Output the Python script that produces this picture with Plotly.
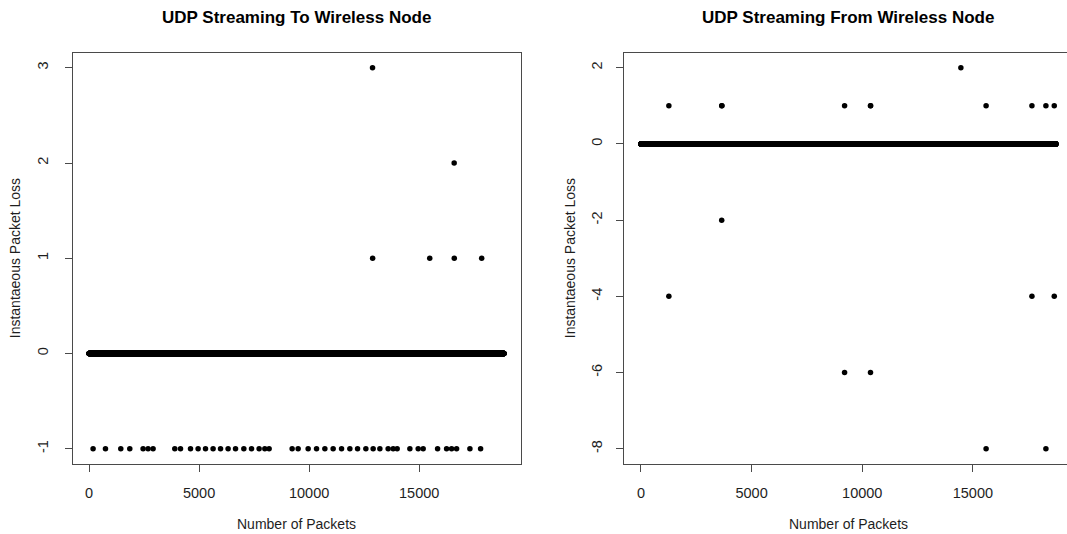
import numpy as np
import plotly.graph_objects as go

# ---- data -------------------------------------------------------------
# Total packets in each stream
n_packets_to = 18850
n_packets_from = 18750

# Loss events, streaming to the wireless node (packet number, loss)
to_event_x = [182, 745, 1441, 1850, 2455, 2682, 2909, 3895, 4155, 4609, 4955,
              5291, 5636, 5973, 6318, 6655, 7032, 7382, 7727, 7986, 8182,
              9227, 9500, 9955, 10336, 10714, 11091, 11473, 11850, 12200,
              12577, 12909, 13214, 13591, 13818, 14000, 14577, 14955, 15182,
              15836, 16245, 16473, 16700, 17305, 17791,
              12880, 12885, 15480, 16590, 16595, 17840]
to_event_y = [-1] * 45 + [3, 1, 1, 2, 1, 1]

# Loss events, streaming from the wireless node (packet number, loss)
from_event_x = [1261, 3649, 3660, 9203, 10374, 10380, 15599, 17671, 18302,
                18680, 14459,
                3649, 1261, 17671, 18680, 9203, 10374, 15599, 18302]
from_event_y = [1, 1, 1, 1, 1, 1, 1, 1, 1,
                1, 2,
                -2, -4, -4, -4, -6, -6, -8, -8]

to_xticks = [0, 5000, 10000, 15000]
to_yticks = [-1, 0, 1, 2, 3]
from_xticks = [0, 5000, 10000, 15000]
from_yticks = [-8, -6, -4, -2, 0, 2]

titles = ["UDP Streaming To Wireless Node", "UDP Streaming From Wireless Node"]
x_title = "Number of Packets"
y_title = "Instantaeous Packet Loss"


def series(n, ex, ey):
    """Every packet (zero loss) plus the loss events."""
    x = np.concatenate([np.arange(1, n + 1), np.asarray(ex)])
    y = np.concatenate([np.zeros(n), np.asarray(ey, dtype=float)])
    return x, y


def padded(lo, hi, f=0.04):
    d = (hi - lo) * f
    return lo - d, hi + d


# ---- geometry ---------------------------------------------------------
W, H = 1067, 534
box_top, box_bot = 52.5, 464.0
left_x0, left_x1 = 72.5, 520.5
right_x0 = 624.4
panel_w = left_x1 - left_x0

FONT = "Liberation Sans, Arial, sans-serif"
TXT = "#1e1e1e"
AX = "#4a4a4a"

fig = go.Figure()

x1, y1 = series(n_packets_to, to_event_x, to_event_y)
x2, y2 = series(n_packets_from, from_event_x, from_event_y)

mk = dict(color="black", size=5.5, line=dict(width=0))
fig.add_trace(go.Scatter(x=x1, y=y1, mode="markers", marker=mk,
                         xaxis="x", yaxis="y", showlegend=False,
                         hoverinfo="skip"))
fig.add_trace(go.Scatter(x=x2, y=y2, mode="markers", marker=mk,
                         xaxis="x2", yaxis="y2", showlegend=False,
                         hoverinfo="skip"))

xr1 = padded(1, n_packets_to)
yr1 = padded(min(to_event_y), max(to_event_y))
full2 = padded(1, n_packets_from)
# the right panel runs past the edge of the page
xr2 = (full2[0], full2[0] + (W - right_x0) / panel_w * (full2[1] - full2[0]))
yr2 = padded(min(from_event_y), max(from_event_y))

ydom = [1 - box_bot / H, 1 - box_top / H]


def xaxis(dom, rng, ticks):
    return dict(domain=dom, range=list(rng), showgrid=False, zeroline=False,
                showline=True, linecolor=AX, linewidth=1, mirror=True,
                ticks="outside", ticklen=7, tickcolor=AX, tickwidth=1,
                tickvals=ticks, ticktext=[str(t) for t in ticks],
                tickfont=dict(family=FONT, size=14.5, color=TXT),
                ticklabelstandoff=9)


def yaxis(anchor, rng, ticks, mirror, standoff):
    return dict(domain=ydom, anchor=anchor, range=list(rng), showgrid=False,
                zeroline=False, showline=True, linecolor=AX, linewidth=1,
                mirror=mirror, ticks="outside", ticklen=7, tickcolor=AX,
                tickwidth=1, tickvals=ticks, ticktext=[str(t) for t in ticks],
                tickangle=-90,
                tickfont=dict(family=FONT, size=14.5, color=TXT),
                ticklabelstandoff=standoff)


fig.update_layout(
    width=W, height=H,
    margin=dict(l=0, r=0, t=0, b=0),
    paper_bgcolor="white", plot_bgcolor="white",
    xaxis=xaxis([left_x0 / W, left_x1 / W], xr1, to_xticks),
    yaxis=yaxis("x", yr1, to_yticks, True, 11),
    xaxis2=xaxis([right_x0 / W, 1.0], xr2, from_xticks),
    yaxis2=yaxis("x2", yr2, from_yticks, False, 9),
)
fig.layout.xaxis2.anchor = "y2"
fig.layout.xaxis.anchor = "y"

# titles and axis labels
centers = [(left_x0 + left_x1) / 2, right_x0 + panel_w / 2]
ytitle_x = [15, 570]
for i, cx in enumerate(centers):
    fig.add_annotation(x=cx / W, y=1 - 18 / H, xref="paper", yref="paper",
                       text=f"<b>{titles[i]}</b>", showarrow=False,
                       xanchor="center", yanchor="middle",
                       font=dict(family=FONT, size=17, color="black"))
    fig.add_annotation(x=cx / W, y=1 - 524 / H, xref="paper", yref="paper",
                       text=x_title, showarrow=False,
                       xanchor="center", yanchor="middle",
                       font=dict(family=FONT, size=14, color=TXT))
    fig.add_annotation(x=ytitle_x[i] / W, y=1 - (box_top + box_bot) / 2 / H,
                       xref="paper", yref="paper", text=y_title,
                       showarrow=False, textangle=-90,
                       xanchor="center", yanchor="middle",
                       font=dict(family=FONT, size=14, color=TXT))

fig.write_html("out.html")
